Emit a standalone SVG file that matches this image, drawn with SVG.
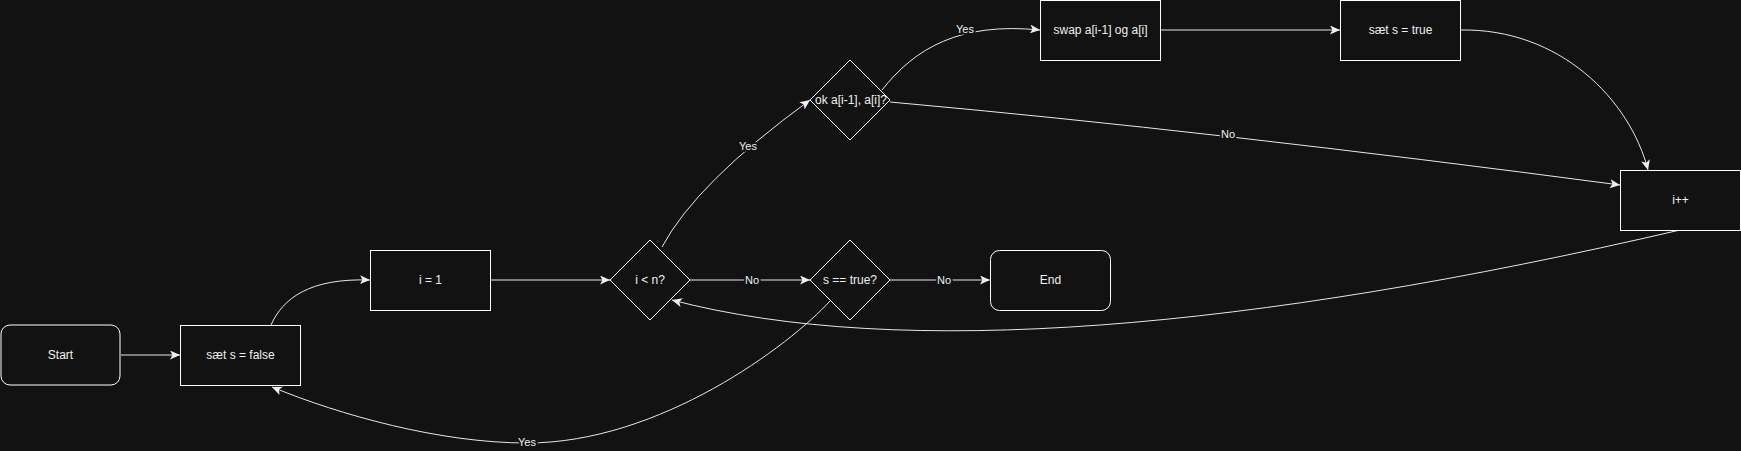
<svg xmlns="http://www.w3.org/2000/svg" width="1741" height="451" viewBox="0 0 1741 451">
<defs>
<style>
.node{fill:#121212;stroke:#ffffff;stroke-width:1}
.t{font-family:"Liberation Sans",Arial,sans-serif;font-size:12px;fill:#f0f0f0;text-anchor:middle;dominant-baseline:central}
.e{fill:none;stroke:#e8e8e8;stroke-width:1}
.lbl{font-family:"Liberation Sans",Arial,sans-serif;font-size:11px;fill:#f0f0f0;text-anchor:middle;dominant-baseline:central;stroke:#121212;stroke-width:4;paint-order:stroke}
</style>
<marker id="arr" markerUnits="userSpaceOnUse" markerWidth="12" markerHeight="10" refX="10" refY="4.5" orient="auto">
<path d="M0,0 L10,4.5 L0,9 L2.5,4.5 Z" fill="#f0f0f0"/>
</marker>
</defs>
<rect x="0" y="0" width="1741" height="451" fill="#121212"/>
<g id="connectors">
<path class="e" d="M121 355 L180 355" marker-end="url(#arr)"/>
<path class="e" d="M271 325 C283 298 310 278 370 280" marker-end="url(#arr)"/>
<path class="e" d="M490 280 L610 280" marker-end="url(#arr)"/>
<path class="e" d="M690 280 L810 280" marker-end="url(#arr)"/>
<path class="e" d="M890 280 L990 280" marker-end="url(#arr)"/>
<path class="e" d="M662 247 Q696 183 810 100" marker-end="url(#arr)"/>
<path class="e" d="M882 90 C915 48 960 22 1040 30" marker-end="url(#arr)"/>
<path class="e" d="M890 102 Q1212 131 1620 185" marker-end="url(#arr)"/>
<path class="e" d="M1160 30 L1340 30" marker-end="url(#arr)"/>
<path class="e" d="M1460 30 C1560 28 1630 100 1648 170" marker-end="url(#arr)"/>
<path class="e" d="M1680 230 C1250 330 900 360 672 300" marker-end="url(#arr)"/>
<path class="e" d="M830 301 C790 345 660 443 527 443 C440 443 340 415 272 387" marker-end="url(#arr)"/>
<text class="lbl" x="752" y="280">No</text>
<text class="lbl" x="944" y="280">No</text>
<text class="lbl" x="748" y="146">Yes</text>
<text class="lbl" x="965" y="29">Yes</text>
<text class="lbl" x="1228" y="134">No</text>
<text class="lbl" x="527" y="442">Yes</text>
</g>
<g id="start"><rect class="node" x="1" y="325" width="119" height="60" rx="9"/><text class="t" x="60.5" y="355">Start</text></g>
<g id="set-false"><rect class="node" x="180.5" y="325.5" width="120" height="60"/><text class="t" x="240.5" y="355">sæt s = false</text></g>
<g id="i1"><rect class="node" x="370.5" y="250.5" width="120" height="60"/><text class="t" x="430.5" y="280">i = 1</text></g>
<g id="cond-i"><path class="node" d="M650 240 L690 280 L650 320 L610 280 Z"/><text class="t" x="650" y="280">i &lt; n?</text></g>
<g id="cond-s"><path class="node" d="M850 240 L890 280 L850 320 L810 280 Z"/><text class="t" x="850" y="280">s == true?</text></g>
<g id="end"><rect class="node" x="990.5" y="250.5" width="120" height="60" rx="9"/><text class="t" x="1050.5" y="280">End</text></g>
<g id="cond-ok"><path class="node" d="M850 60 L890 100 L850 140 L810 100 Z"/><text class="t" x="851" y="100">ok a[i-1], a[i]?</text></g>
<g id="swap"><rect class="node" x="1040.5" y="0.5" width="120" height="60"/><text class="t" x="1100.5" y="30">swap a[i-1] og a[i]</text></g>
<g id="set-true"><rect class="node" x="1340.5" y="0.5" width="120" height="60"/><text class="t" x="1400.5" y="30">sæt s = true</text></g>
<g id="inc"><rect class="node" x="1620.5" y="170.5" width="120" height="60"/><text class="t" x="1680.5" y="200">i++</text></g>
</svg>
